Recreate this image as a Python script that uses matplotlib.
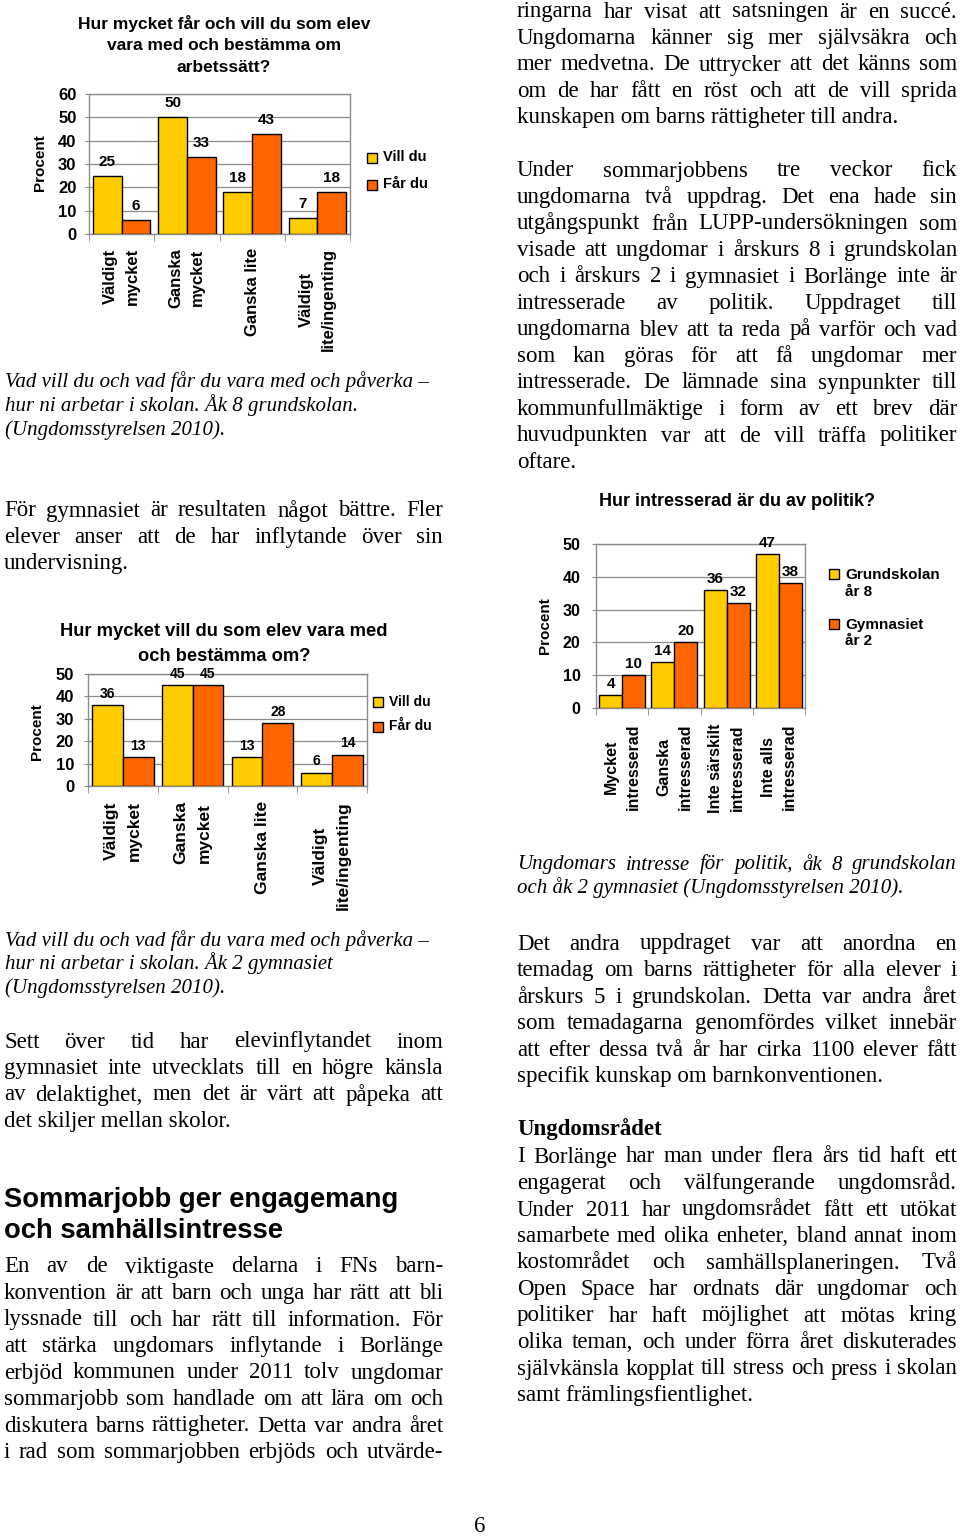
import matplotlib
matplotlib.use('Agg')
import matplotlib.pyplot as plt
from matplotlib.patches import Rectangle
import numpy as np

W, H = 960, 1537
SANS = ['Liberation Sans', 'DejaVu Sans']
SERIF = ['Liberation Serif', 'DejaVu Serif']
plt.rcParams['font.family'] = SANS

YELLOW = '#FFCC00'
ORANGE = '#FF6600'
GRAY = '#8c8c8c'

# ---------------- data ----------------
c1_title = ['Hur mycket får och vill du som elev', 'vara med och bestämma om', 'arbetssätt?']
c1_categories = ['Väldigt\nmycket', 'Ganska\nmycket', 'Ganska lite', 'Väldigt\nlite/ingenting']
c1_vill = [25, 50, 18, 7]
c1_far = [6, 33, 43, 18]
c1_series = ['Vill du', 'Får du']

c2_title = ['Hur mycket vill du som elev vara med', 'och bestämma om?']
c2_categories = ['Väldigt\nmycket', 'Ganska\nmycket', 'Ganska lite', 'Väldigt\nlite/ingenting']
c2_vill = [36, 45, 13, 6]
c2_far = [13, 45, 28, 14]
c2_series = ['Vill du', 'Får du']

c3_title = ['Hur intresserad är du av politik?']
c3_categories = ['Mycket\nintresserad', 'Ganska\nintresserad', 'Inte särskilt\nintresserad',
                 'Inte alls\nintresserad']
c3_grund = [4, 14, 36, 47]
c3_gymn = [10, 20, 32, 38]
c3_series = ['Grundskolan\når 8', 'Gymnasiet\når 2']

# ---------------- text ----------------
right_p1 = ['ringarna har visat att satsningen är en succé.',
            'Ungdomarna känner sig mer självsäkra och',
            'mer medvetna. De uttrycker att det känns som',
            'om de har fått en röst och att de vill sprida',
            'kunskapen om barns rättigheter till andra.']
right_p2 = ['Under sommarjobbens tre veckor fick',
            'ungdomarna två uppdrag. Det ena hade sin',
            'utgångspunkt från LUPP-undersökningen som',
            'visade att ungdomar i årskurs 8 i grundskolan',
            'och i årskurs 2 i gymnasiet i Borlänge inte är',
            'intresserade av politik. Uppdraget till',
            'ungdomarna blev att ta reda på varför och vad',
            'som kan göras för att få ungdomar mer',
            'intresserade. De lämnade sina synpunkter till',
            'kommunfullmäktige i form av ett brev där',
            'huvudpunkten var att de vill träffa politiker',
            'oftare.']
cap1 = ['Vad vill du och vad får du vara med och påverka –',
        'hur ni arbetar i skolan. Åk 8 grundskolan.',
        '(Ungdomsstyrelsen 2010).']
left_p1 = ['För gymnasiet är resultaten något bättre. Fler',
           'elever anser att de har inflytande över sin',
           'undervisning.']
cap2 = ['Vad vill du och vad får du vara med och påverka –',
        'hur ni arbetar i skolan. Åk 2 gymnasiet',
        '(Ungdomsstyrelsen 2010).']
left_p2 = ['Sett över tid har elevinflytandet inom',
           'gymnasiet inte utvecklats till en högre känsla',
           'av delaktighet, men det är värt att påpeka att',
           'det skiljer mellan skolor.']
heading = ['Sommarjobb ger engagemang', 'och samhällsintresse']
left_p3 = ['En av de viktigaste delarna i FNs barn-',
           'konvention är att barn och unga har rätt att bli',
           'lyssnade till och har rätt till information. För',
           'att stärka ungdomars inflytande i Borlänge',
           'erbjöd kommunen under 2011 tolv ungdomar',
           'sommarjobb som handlade om att lära om och',
           'diskutera barns rättigheter. Detta var andra året',
           'i rad som sommarjobben erbjöds och utvärde-']
cap3 = ['Ungdomars intresse för politik, åk 8 grundskolan',
        'och åk 2 gymnasiet (Ungdomsstyrelsen 2010).']
right_p3 = ['Det andra uppdraget var att anordna en',
            'temadag om barns rättigheter för alla elever i',
            'årskurs 5 i grundskolan. Detta var andra året',
            'som temadagarna genomfördes vilket innebär',
            'att efter dessa två år har cirka 1100 elever fått',
            'specifik kunskap om barnkonventionen.']
sub_heading = 'Ungdomsrådet'
right_p4 = ['I Borlänge har man under flera års tid haft ett',
            'engagerat och välfungerande ungdomsråd.',
            'Under 2011 har ungdomsrådet fått ett utökat',
            'samarbete med olika enheter, bland annat inom',
            'kostområdet och samhällsplaneringen. Två',
            'Open Space har ordnats där ungdomar och',
            'politiker har haft möjlighet att mötas kring',
            'olika teman, och under förra året diskuterades',
            'självkänsla kopplat till stress och press i skolan',
            'samt främlingsfientlighet.']

fig = plt.figure(figsize=(W / 100, H / 100), dpi=100)
fig.patch.set_facecolor('white')
renderer = fig.canvas.get_renderer()


def fx(x):
    return x / W


def fy(y):
    return 1 - y / H


def text_w(s, **kw):
    t = fig.text(0, 0, s, **kw)
    w = t.get_window_extent(renderer=renderer).width
    t.remove()
    return w


def put_line(s, x0, x1, yb, justify, **kw):
    words = s.split()
    if not justify or len(words) < 2:
        fig.text(fx(x0), fy(yb), s, ha='left', va='baseline', **kw)
        return
    widths = [text_w(w_, **kw) for w_ in words]
    gap = (x1 - x0 - sum(widths)) / (len(words) - 1)
    x = x0
    for w_, ww in zip(words, widths):
        fig.text(fx(x), fy(yb), w_, ha='left', va='baseline', **kw)
        x += ww + gap


def paragraph(lines, x0, x1, yc0, step, justify=True, last_justified=False,
              size=16.5, style='normal', weight='normal', family=SERIF, boff=7.5):
    for i, line in enumerate(lines):
        last = i == len(lines) - 1
        j = justify and (not last or last_justified)
        put_line(line, x0, x1, yc0 + i * step + boff, j, fontsize=size,
                 fontstyle=style, fontweight=weight, family=family, color='black')


def px_axes(left, top, right, bottom):
    return fig.add_axes([left / W, 1 - bottom / H, (right - left) / W, (bottom - top) / H])


def legend(x, items, size):
    # items: (color, label, square_top, text_center_y)
    for color, label, sq_top, ty in items:
        fig.patches.append(Rectangle((fx(x), fy(sq_top + 10)), 10 / W, 10 / H,
                                     transform=fig.transFigure, facecolor=color,
                                     edgecolor='black', linewidth=1))
        fig.text(fx(x + 16), fy(ty), label, ha='left', va='center', fontsize=size,
                 fontweight='bold', family=SANS, linespacing=1.25)


def bar_chart(ax, cats, s1, s2, ymax, fs_tick, fs_val, fs_cat, cat_pad, ytick_pad,
              cat_ls, val_pad):
    x = np.arange(len(cats))
    w = 0.44
    b1 = ax.bar(x - w / 2, s1, w, color=YELLOW, edgecolor='black', linewidth=1, zorder=3)
    b2 = ax.bar(x + w / 2, s2, w, color=ORANGE, edgecolor='black', linewidth=1, zorder=3)
    for b in (b1, b2):
        ax.bar_label(b, padding=val_pad, fontsize=fs_val, fontweight='bold', family=SANS)
    ax.set_xlim(-0.5, len(cats) - 0.5)
    ax.set_ylim(0, ymax)
    ax.set_yticks(np.arange(0, ymax + 1, 10))
    ax.yaxis.grid(True, color=GRAY, linewidth=0.9)
    ax.set_axisbelow(True)
    for s in ax.spines.values():
        s.set_color(GRAY)
        s.set_linewidth(1)
    ax.set_xticks(x)
    ax.set_xticklabels(cats, rotation=90, ha='center', va='top', multialignment='center',
                       fontsize=fs_cat, fontweight='bold', linespacing=cat_ls)
    ax.tick_params(axis='x', which='major', length=0, pad=cat_pad)
    ax.set_xticks(np.arange(-0.5, len(cats)), minor=True)
    ax.tick_params(axis='x', which='minor', length=5, color=GRAY, direction='out')
    ax.tick_params(axis='y', length=3, color=GRAY, labelsize=fs_tick, pad=ytick_pad)
    for lab in ax.get_yticklabels():
        lab.set_fontweight('bold')


# ---------------- chart 1 ----------------
ax1 = px_axes(89, 94, 350, 234)
bar_chart(ax1, c1_categories, c1_vill, c1_far, 60, 12, 11, 12, 10, 6, 1.55, 5)
for i, t in enumerate(c1_title):
    fig.text(fx(224), fy(23 + i * 22.5), t, ha='center', va='center', fontsize=12.5,
             fontweight='bold', family=SANS)
fig.text(fx(40), fy(163), 'Procent', rotation=90, ha='center', va='center', fontsize=11,
         fontweight='bold', family=SANS)
legend(367, [(YELLOW, c1_series[0], 153, 157), (ORANGE, c1_series[1], 180, 184)], 10.5)

# ---------------- chart 2 ----------------
ax2 = px_axes(88, 674, 367, 786)
bar_chart(ax2, c2_categories, c2_vill, c2_far, 50, 12, 10, 12.5, 11, 7, 1.65, 3)
for i, t in enumerate(c2_title):
    fig.text(fx(224), fy(631 + i * 25.5), t, ha='center', va='center', fontsize=13.2,
             fontweight='bold', family=SANS)
fig.text(fx(37), fy(732), 'Procent', rotation=90, ha='center', va='center', fontsize=11,
         fontweight='bold', family=SANS)
legend(373, [(YELLOW, c2_series[0], 697, 702), (ORANGE, c2_series[1], 722, 726)], 10)

# ---------------- chart 3 ----------------
ax3 = px_axes(596, 544, 805, 708)
bar_chart(ax3, c3_categories, c3_grund, c3_gymn, 50, 11.5, 11, 11.5, 11, 8, 1.55, 3)
fig.text(fx(737), fy(502), c3_title[0], ha='center', va='center', fontsize=13,
         fontweight='bold', family=SANS)
fig.text(fx(545), fy(626), 'Procent', rotation=90, ha='center', va='center', fontsize=11,
         fontweight='bold', family=SANS)
legend(829, [(YELLOW, c3_series[0], 569, 583.5), (ORANGE, c3_series[1], 619, 633)], 11)

# ---------------- body text ----------------
LX0, LX1 = 4, 443
RX0, RX1 = 517, 957
STEP = 26.5

paragraph(right_p1, RX0, RX1, 10, STEP)
paragraph(right_p2, RX0, RX1, 169, STEP)
paragraph(cap1, 5, LX1, 381, 24, justify=False, size=15, style='italic', boff=6.5)
paragraph(left_p1, LX0, LX1, 509, STEP)
paragraph(cap2, 5, LX1, 939, 24, justify=False, size=15, style='italic', boff=6.5)
paragraph(left_p2, LX0, LX1, 1040, STEP)
paragraph(heading, LX0, LX1, 1198, 31, justify=False, size=19.7, weight='bold',
          family=SANS, boff=9)
paragraph(left_p3, LX0, LX1, 1265, STEP, last_justified=True)
paragraph(cap3, RX0, RX1, 863, 24, size=15, style='italic', boff=6.5)
paragraph(right_p3, RX0, RX1, 942, STEP)
paragraph([sub_heading], RX0, RX1, 1128, STEP, justify=False, weight='bold')
paragraph(right_p4, RX0, RX1, 1155, STEP)

fig.text(fx(480), fy(1532), '6', ha='center', va='baseline', fontsize=16.5, family=SERIF)

fig.savefig('out.png', dpi=100, facecolor='white')
